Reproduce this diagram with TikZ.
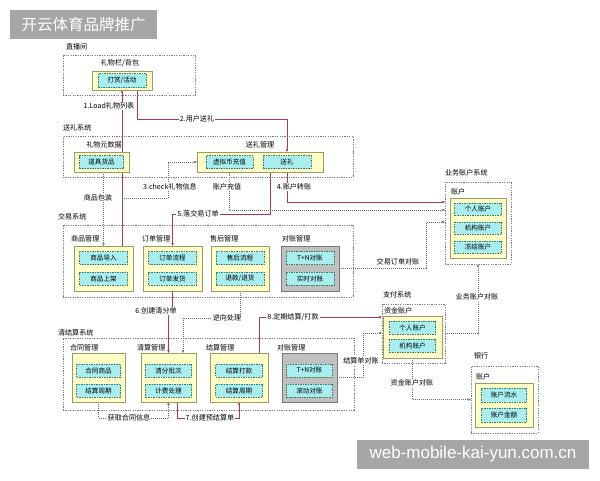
\documentclass[tikz,border=0pt]{standalone}
\usepackage{fontspec}
\newfontfamily\cjk{Noto Sans CJK SC}
\newfontfamily\wmsans{Liberation Sans}
\usetikzlibrary{arrows.meta,backgrounds}
\definecolor{yfill}{HTML}{FFFFC8}
\definecolor{ydraw}{HTML}{A09A64}
\definecolor{cfill}{HTML}{A8EEF0}
\definecolor{cdraw}{HTML}{3E7A5E}
\definecolor{gfill}{HTML}{C0C0C0}
\definecolor{gdraw}{HTML}{7A7A7A}
\definecolor{sysc}{HTML}{7A7A7A}
\definecolor{redl}{HTML}{A83C50}
\definecolor{dotl}{HTML}{6A6A6A}
\definecolor{wmgray}{HTML}{A6A6A6}
\begin{document}
\begin{tikzpicture}[x=1pt,y=-1pt,
  every node/.style={inner sep=0pt, outer sep=0pt},
  sz/.style 2 args={minimum width=#1pt, minimum height=#2pt},
  sysbox/.style={draw=sysc, line width=0.6pt, dash pattern=on 1.2pt off 1.2pt},
  ybox/.style={draw=ydraw, fill=yfill, line width=0.9pt},
  gbox/.style={draw=gdraw, fill=gfill, line width=0.9pt},
  cbox/.style={draw=cdraw, fill=cfill, line width=0.6pt, dash pattern=on 1.5pt off 1pt, font=\cjk\fontsize{6.6}{7}\selectfont},
  lbl/.style={font=\cjk\fontsize{7.1}{8}\selectfont},
  onl/.style={lbl, fill=white, inner sep=1pt},
  rarrow/.style={draw=redl, line width=0.6pt, -{Stealth[length=3.2pt,width=2.6pt]}},
  darrow/.style={draw=dotl, line width=0.6pt, dash pattern=on 1pt off 1pt, -{Stealth[length=3.2pt,width=2.6pt]}},
]
\path[use as bounding box] (0,0) rectangle (600,480);

% watermarks
\node[fill=wmgray, sz={147}{29}, text=white, font=\cjk\fontsize{15.5}{16}\selectfont] (wm1) at (83.5,24.5) {开云体育品牌推广};
\node[fill=wmgray, sz={232}{29}, text=white, font=\wmsans\fontsize{17}{18}\selectfont] (wm2) at (473,454.5) {web-mobile-kai-yun.com.cn};

% 直播间
\node[sysbox, sz={132}{40}] (zbj) at (129,75) {};
\node[lbl, anchor=west] (zbjt) at (66,47) {直播间};
\node[lbl] (lwl) at (120,63) {礼物栏/背包};
\node[ybox, sz={60}{19}] (ygift) at (122,80.5) {};
\node[cbox, sz={48}{14}] (ds) at (122,80.5) {打赏/活动};

% 送礼系统
\node[sysbox, sz={290}{41}] (slsys) at (208,156.5) {};
\node[lbl, anchor=west] (slsyst) at (63,128) {送礼系统};
\node[lbl] (metat) at (104,145) {礼物元数据};
\node[ybox, sz={55}{20}] (ymeta) at (101.5,162) {};
\node[cbox, sz={44}{13}] (djhp) at (101.5,162) {道具货品};
\node[lbl] (sendt) at (260,145) {送礼管理};
\node[ybox, sz={126}{20}] (ysend) at (260,162) {};
\node[cbox, sz={47}{13}] (vc) at (229.5,162) {虚拟币充值};
\node[cbox, sz={48}{13}] (songli) at (287,162) {送礼};

% 交易系统
\node[sysbox, sz={290}{72}] (jysys) at (208,261) {};
\node[lbl, anchor=west] (jysyst) at (58,217) {交易系统};
\node[lbl, anchor=west] (goodst) at (71,239) {商品管理};
\node[lbl, anchor=west] (ordert) at (142,239) {订单管理};
\node[lbl, anchor=west] (sht) at (210,239) {售后管理};
\node[lbl, anchor=west] (tdzt) at (282,239) {对账管理};
\node[ybox, sz={59}{45}] (ygoods) at (103.5,268.5) {};
\node[cbox, sz={48}{13}] (g1) at (103.5,258) {商品导入};
\node[cbox, sz={48}{13}] (g2) at (103.5,278.5) {商品上架};
\node[ybox, sz={59}{45}] (yorder) at (172.5,268.5) {};
\node[cbox, sz={48}{13}] (o1) at (172.5,258) {订单流程};
\node[cbox, sz={48}{13}] (o2) at (172.5,278.5) {订单发货};
\node[ybox, sz={58}{45}] (ysh) at (240,268.5) {};
\node[cbox, sz={48}{13}] (s1) at (240,258) {售后流程};
\node[cbox, sz={48}{13}] (s2) at (240,278.5) {退款/退货};
\node[gbox, sz={58}{45}] (tdz) at (310,268.5) {};
\node[cbox, sz={48}{13}] (t1) at (310,258) {T+N对账};
\node[cbox, sz={48}{13}] (t2) at (310,278.5) {实时对账};

% 清结算系统
\node[sysbox, sz={291}{72}] (qjsys) at (208.5,374) {};
\node[lbl, anchor=west] (qjsyst) at (58,333) {清结算系统};
\node[lbl, anchor=west] (htt) at (70,348) {合同管理};
\node[lbl, anchor=west] (qst) at (137,348) {清算管理};
\node[lbl, anchor=west] (jst) at (206,348) {结算管理};
\node[lbl, anchor=west] (qdzt) at (277,348) {对账管理};
\node[ybox, sz={53}{49}] (yht) at (98.5,377.5) {};
\node[cbox, sz={44}{13}] (h1) at (98.5,370.5) {合同商品};
\node[cbox, sz={44}{13}] (h2) at (98.5,390.5) {结算周期};
\node[ybox, sz={55}{49}] (yqs) at (168.5,377.5) {};
\node[cbox, sz={46}{13}] (q1) at (168.5,370.5) {清分批次};
\node[cbox, sz={46}{13}] (q2) at (168.5,390.5) {计费处理};
\node[ybox, sz={58}{49}] (yjs) at (239,377.5) {};
\node[cbox, sz={47}{13}] (j1) at (239,370.5) {结算打款};
\node[cbox, sz={47}{13}] (j2) at (239,390.5) {结算周期};
\node[gbox, sz={55}{49}] (qdz) at (309.5,377.5) {};
\node[cbox, sz={46}{13}] (d1) at (309.5,370.5) {T+N对账};
\node[cbox, sz={46}{13}] (d2) at (309.5,390.5) {滚动对账};

% 业务账户系统
\node[sysbox, sz={66}{82}] (zhsys) at (478,223) {};
\node[lbl, anchor=west] (zhsyst) at (445,173) {业务账户系统};
\node[lbl, anchor=west] (zht) at (451,192) {账户};
\node[ybox, sz={56}{60}] (yzh) at (478,228) {};
\node[cbox, sz={47}{12}] (a1) at (478,209) {个人账户};
\node[cbox, sz={47}{12}] (a2) at (478,228) {机构账户};
\node[cbox, sz={47}{12}] (a3) at (478,247) {冻结账户};

% 支付系统
\node[sysbox, sz={63}{59}] (zfsys) at (413.5,333.5) {};
\node[lbl, anchor=west] (zfsyst) at (383,295) {支付系统};
\node[lbl, anchor=west] (zjt) at (384,311) {资金账户};
\node[ybox, sz={59}{42}] (yzj) at (412.5,337) {};
\node[cbox, sz={46}{13}] (p1) at (412.5,327.5) {个人账户};
\node[cbox, sz={46}{13}] (p2) at (412.5,345.5) {机构账户};

% 银行
\node[sysbox, sz={67}{67}] (banksys) at (504.5,399.5) {};
\node[lbl, anchor=west] (bankt) at (474,356) {银行};
\node[lbl, anchor=west] (bzht) at (476,377) {账户};
\node[ybox, sz={58}{44}] (ybank) at (504,405) {};
\node[cbox, sz={45}{14}] (b1) at (504,395) {账户流水};
\node[cbox, sz={45}{14}] (b2) at (504,415) {账户金额};

% connector labels
\node[onl] (l1) at (109,106) {1.Load礼物列表};
\node[onl] (l2) at (197,119) {2.用户送礼};
\node[onl] (lbz) at (98,198) {商品包装};
\node[onl] (l3) at (170,187) {3.check礼物信息};
\node[onl] (lcz) at (227,187) {账户充值};
\node[onl] (l4) at (294,187) {4.账户转账};
\node[onl] (l5) at (198,214) {5.落交易订单};
\node[lbl] (ljy) at (398,262) {交易订单对账};
\node[onl] (l6) at (156,311) {6.创建清分单};
\node[onl] (lnx) at (227,318) {逆向处理};
\node[onl] (l8) at (293,317) {8.定期结算/打款};
\node[onl] (ljsd) at (361,361) {结算单对账};
\node[onl] (lyw) at (477,297) {业务账户对账};
\node[onl] (lzj) at (412,383) {资金账户对账};
\node[onl] (lht) at (129,418) {获取合同信息};
\node[onl] (l7) at (210,418) {7.创建预结算单};

\coordinate (k2) at (287,119);
\coordinate (k3) at (168,198);
\coordinate (kc) at (0,210);
\coordinate (k4) at (0,202);
\coordinate (k5) at (0,214);
\coordinate (k6) at (426,222);
\coordinate (k7) at (183,318);
\coordinate (k8) at (0,317);
\coordinate (k9) at (363,333);
\coordinate (k10) at (0,418);

\begin{scope}[on background layer]
\fill[white] (0,0) rectangle (600,480);
\draw[rarrow] (ygoods.north -| ygift.south) -- (ygift.south);
\draw[rarrow] ([xshift=15pt]ygift.south) |- (k2) -- (ysend.north -| k2);
\draw[darrow] (ymeta.south -| ygoods.north) -- (ygoods.north);
\draw[darrow] (ygift.south |- k3) -- (k3) |- (ysend.west);
\draw[darrow] (vc.south) |- (zhsys.west |- kc);
\draw[rarrow] (songli.south) |- (zhsys.west |- k4);
\draw[rarrow] ([xshift=-17pt]songli.south) |- (yorder.north |- k5) -- (yorder.north);
\draw[darrow] (tdz.east) -| (k6) -- (zhsys.west |- k6);
\draw[rarrow] (yorder.south) -- (yorder.south |- l6) -| (yqs.north);
\draw[darrow] (ysh.south) |- (k7) -- (yqs.north -| k7);
\draw[rarrow] ([xshift=20pt]yjs.north) |- (zfsys.west |- k8);
\draw[darrow] (qdz.east) -| (k9) -- (zfsys.west |- k9);
\draw[darrow] (zfsys.east) -| (zhsys.south);
\draw[darrow] (yzj.south) |- (banksys.west);
\draw[darrow] (yht.south) |- (yqs.south |- k10) -- (yqs.south);
\draw[rarrow] ([xshift=9pt]yqs.south) |- (yjs.south |- k10) -- (yjs.south);
\end{scope}
\end{tikzpicture}
\end{document}
